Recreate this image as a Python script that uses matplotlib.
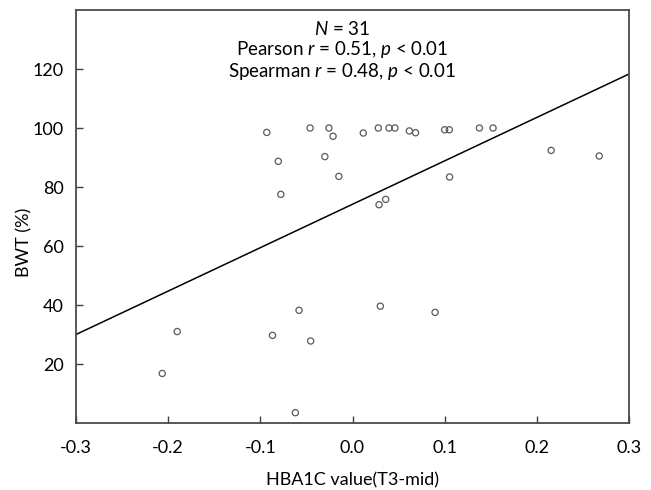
import matplotlib
matplotlib.use("Agg")
import matplotlib.pyplot as plt
from matplotlib import font_manager

# HbA1c change (T3 - mid) vs birth-weight percentile
hba1c = [-0.093, -0.0805, -0.0778, -0.046, -0.0256, -0.0211, -0.030, -0.0148,
         0.0117, 0.028, 0.0396, 0.046, 0.0288, 0.036, 0.0617, 0.0684,
         0.100, 0.105, 0.1053, 0.1377, 0.1525, 0.2155, 0.2677,
         -0.2064, -0.1902, -0.0868, -0.058, -0.0454, -0.062, 0.0302, 0.0896]
bwt = [98.5, 88.7, 77.5, 100.0, 100.0, 97.2, 90.3, 83.6,
       98.3, 100.0, 100.0, 100.0, 74.0, 75.8, 99.0, 98.4,
       99.4, 99.4, 83.4, 100.0, 100.0, 92.4, 90.5,
       16.8, 31.0, 29.7, 38.2, 27.8, 3.5, 39.6, 37.5]

# regression line, end points read at the axis limits
fit_x = [-0.3, 0.3]
fit_y = [30.0, 118.3]

x_ticks = [-0.3, -0.2, -0.1, 0.0, 0.1, 0.2, 0.3]
y_ticks = [20, 40, 60, 80, 100, 120]

stats_text = ("$N$ = 31\n"
              "Pearson $r$ = 0.51, $p$ < 0.01\n"
              "Spearman $r$ = 0.48, $p$ < 0.01")

names = {f.name for f in font_manager.fontManager.ttflist}
family = "Liberation Sans Narrow" if "Liberation Sans Narrow" in names else "Lato"
plt.rcParams["font.family"] = [family, "DejaVu Sans"]
plt.rcParams["mathtext.fontset"] = "custom"
plt.rcParams["mathtext.it"] = f"{family}:italic"
plt.rcParams["mathtext.rm"] = family

fig = plt.figure(figsize=(6.51, 4.90), dpi=100)
ax = fig.add_axes([76 / 651, 1 - 423 / 490, 553 / 651, 413 / 490])

ax.scatter(hba1c, bwt, s=20, facecolors="none", edgecolors="#5a5a5a",
           linewidths=0.9, zorder=3)
ax.plot(fit_x, fit_y, color="black", lw=1.1, zorder=2)

ax.set_xlim(-0.3, 0.3)
ax.set_ylim(0, 140)
ax.set_xticks(x_ticks)
ax.set_xticklabels([f"{v:.1f}" for v in x_ticks])
ax.set_yticks(y_ticks)
ax.tick_params(direction="in", length=5, width=1.0, color="#404040",
               labelsize=13, pad=9)
ax.tick_params(axis="x", pad=12)
for side in ax.spines.values():
    side.set_color("#4a4a4a")
    side.set_linewidth(1.3)

ax.set_xlabel("HBA1C value(T3-mid)", fontsize=13, labelpad=12)
ax.set_ylabel("BWT (%)", fontsize=13, va="center")
ax.yaxis.set_label_coords((24 - 76) / 553, (423 - 242) / 413)

ax.text(0.481, 0.975, stats_text, transform=ax.transAxes, ha="center",
        va="top", fontsize=13.5, linespacing=1.05, multialignment="center")

fig.savefig("out.png", dpi=100)
